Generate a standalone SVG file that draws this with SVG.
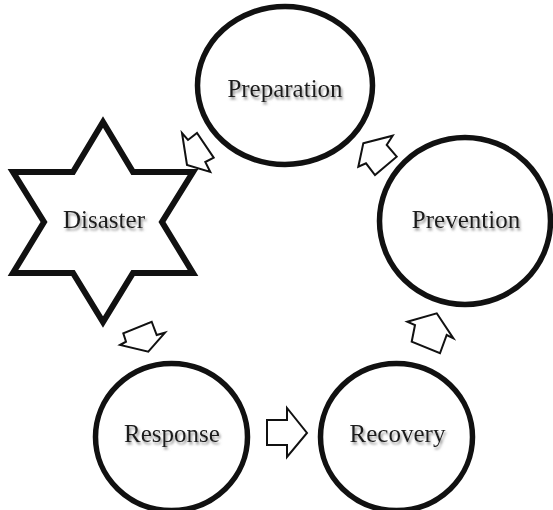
<svg xmlns="http://www.w3.org/2000/svg" width="553" height="510" viewBox="0 0 553 510">
<style>
.node{fill:#fff;stroke:#111;stroke-width:5.5}
.star{fill:#fff;stroke:#111;stroke-width:6;stroke-linejoin:miter}
.lbl{font-family:"Liberation Serif","Times New Roman",serif;font-size:25px;fill:#1a1a1a;text-anchor:middle;filter:url(#sh)}
.arr{fill:#fff;stroke:#111;stroke-width:2;stroke-linejoin:miter}
</style>
<defs>
<filter id="sh" x="-10%" y="-30%" width="125%" height="170%">
<feDropShadow dx="1.5" dy="2.5" stdDeviation="1.3" flood-color="#777" flood-opacity="0.8"/>
</filter>
</defs>
<rect width="553" height="510" fill="#fff"/>
<g id="connectors">
<polygon class="arr" points="187,165 182,133 188,140 197,133 213.7,157.7 205.3,162 210.3,172"/>
<polygon class="arr" points="363.3,143.3 392.7,135.7 386.7,145 396.7,156.7 375,175 366,163.3 358.3,166.7"/>
<polygon class="arr" points="436.7,313.3 453.3,338.3 446.7,335 440,353.3 411.7,341.7 415,325 407.3,321.7"/>
<polygon class="arr" points="148.3,351.7 165,332.7 156.7,335 151.7,321.7 123.3,333.3 126,341.7 120,345"/>
<polygon class="arr" points="267,420 287,420 287,408 307,433 287,457 287,445 267,445"/>
</g>
<g id="disaster">
<polygon class="star" points="103,122 133,172 193,172 162,222 193,273 133,273 103,322 73,273 13,273 44,222 13,172 73,172"/>
<text class="lbl" x="104" y="228">Disaster</text>
</g>
<g id="preparation">
<ellipse class="node" cx="285" cy="85.5" rx="87.5" ry="79"/>
<text class="lbl" x="285" y="97">Preparation</text>
</g>
<g id="prevention">
<ellipse class="node" cx="465" cy="221" rx="85.5" ry="83.5"/>
<text class="lbl" x="466" y="228">Prevention</text>
</g>
<g id="response">
<ellipse class="node" cx="171.5" cy="437" rx="76" ry="73.5"/>
<text class="lbl" x="172" y="442">Response</text>
</g>
<g id="recovery">
<ellipse class="node" cx="396.5" cy="437" rx="76" ry="73.5"/>
<text class="lbl" x="397.5" y="442">Recovery</text>
</g>
</svg>
